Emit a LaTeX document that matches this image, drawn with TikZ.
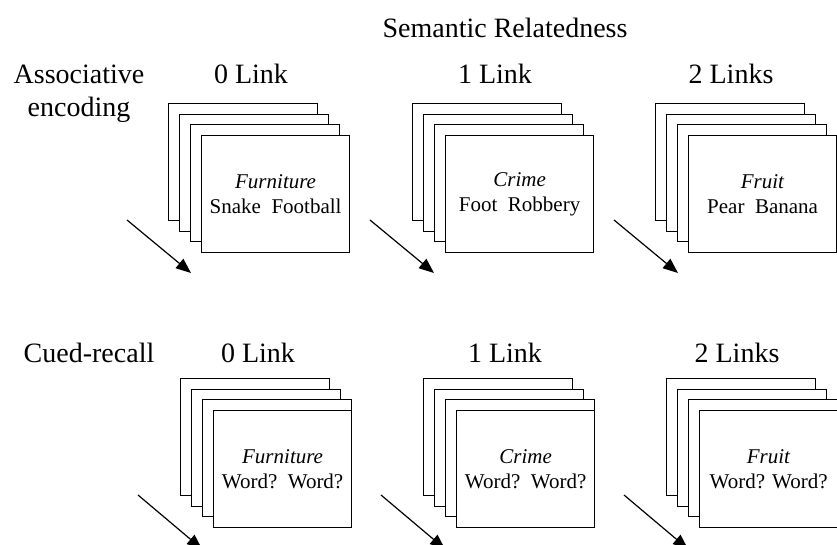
\documentclass[tikz,border=0pt]{standalone}
\usepackage{fontspec}
\setmainfont{Liberation Serif}
\usetikzlibrary{arrows.meta}
\newcommand{\cardstack}[6]{% name, x, y, front width, italic, words
  \node[card, minimum width=149pt] (#1a) at (#2,#3) {};
  \node[card, minimum width=149pt] (#1b) at ({#2+11},{#3+11}) {};
  \node[card, minimum width=149pt] (#1c) at ({#2+22},{#3+21}) {};
  \node[card, minimum width=#4, align=center] (#1f) at ({#2+33},{#3+32}) {\textit{#5}\\#6};
}
\begin{document}
\begin{tikzpicture}[x=1pt,y=-1pt,
  card/.style={draw=black, fill=white, line width=1.2pt, anchor=north west,
    minimum height=117pt, inner sep=0pt, font=\fontsize{21}{25}\selectfont},
  head/.style={anchor=base, font=\fontsize{28}{32}\selectfont, inner sep=0pt},
  arr/.style={line width=1.2pt, -{Triangle[length=15pt,width=12pt]}}]
\clip (0,0) rectangle (837,545);
\fill[white] (0,0) rectangle (837,545);

% headings
\node[head] (title) at (505,38) {Semantic Relatedness};
\node[head] (assoc) at (79,84) {Associative};
\node[head] (enc) at (79,117) {encoding};
\node[head] (t0) at (251,84) {0 Link};
\node[head] (t1) at (495,84) {1 Link};
\node[head] (t2) at (731,84) {2 Links};
\node[head] (cued) at (89,362) {Cued-recall};
\node[head] (b0) at (258,362) {0 Link};
\node[head] (b1) at (505,362) {1 Link};
\node[head] (b2) at (737,362) {2 Links};

% top row stacks
\cardstack{ta}{168}{103}{148pt}{Furniture}{Snake\hspace{0.5em}Football}
\cardstack{tb}{412}{103}{148pt}{Crime}{Foot\hspace{0.5em}Robbery}
\cardstack{tc}{655}{103}{148pt}{Fruit}{Pear\hspace{0.5em}Banana}

% bottom row stacks
\cardstack{ba}{180}{378}{138pt}{Furniture}{Word?\hspace{0.5em}Word?}
\cardstack{bb}{423}{378}{138pt}{Crime}{Word?\hspace{0.5em}Word?}
\cardstack{bc}{666}{378}{138pt}{Fruit}{Word? Word?}

% arrows
\coordinate (a1s) at (127,220); \coordinate (a1e) at (191,273);
\coordinate (a2s) at (370,220); \coordinate (a2e) at (434,273);
\coordinate (a3s) at (614,220); \coordinate (a3e) at (678,273);
\coordinate (a4s) at (138,495); \coordinate (a4e) at (202,549);
\coordinate (a5s) at (381,495); \coordinate (a5e) at (445,549);
\coordinate (a6s) at (624,495); \coordinate (a6e) at (688,549);
\foreach \k in {1,...,6}{\draw[arr] (a\k s) -- (a\k e);}
\end{tikzpicture}
\end{document}
